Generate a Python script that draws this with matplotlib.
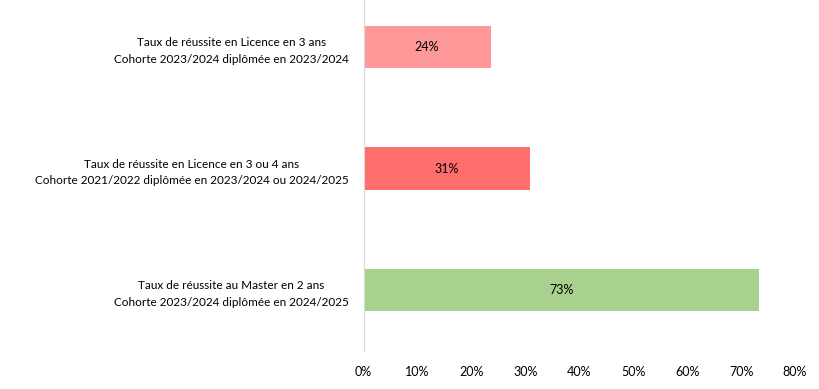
import matplotlib.pyplot as plt
from matplotlib.ticker import PercentFormatter

categories = [
    "Taux de réussite en Licence en 3 ans\nCohorte 2023/2024 diplômée en 2023/2024",
    "Taux de réussite en Licence en 3 ou 4 ans\nCohorte 2021/2022 diplômée en 2023/2024 ou 2024/2025",
    "Taux de réussite au Master en 2 ans\nCohorte 2023/2024 diplômée en 2024/2025",
]
values = [23.6, 30.9, 73.4]
labels = ["24%", "31%", "73%"]
colors = ["#FF9999", "#FF6D6D", "#A9D18E"]
xticks = [0, 10, 20, 30, 40, 50, 60, 70, 80]

plt.rcParams['font.family'] = ['Lato', 'DejaVu Sans']

fig = plt.figure(figsize=(8.19, 3.89), dpi=100)
ax = fig.add_axes([363.5 / 819, 38 / 389, (795 - 363.5) / 819, (351 + 14) / 389])

ypos = list(range(len(categories)))
bars = ax.barh(ypos, values, height=0.35, color=colors)
for b, lab in zip(bars, labels):
    ax.text(b.get_width() / 2, b.get_y() + b.get_height() / 2, lab,
            ha="center", va="center", fontsize=9, color="black")

ax.set_ylim(len(categories) - 0.5, -0.5)
ax.set_xlim(0, 80)
ax.set_xticks(xticks)
ax.xaxis.set_major_formatter(PercentFormatter(decimals=0))
ax.set_yticks(ypos)
ax.set_yticklabels(categories, fontsize=8.5, multialignment="center", linespacing=1.65)

for s in ["top", "right", "bottom"]:
    ax.spines[s].set_visible(False)
ax.spines["left"].set_color("#D9D9D9")
ax.tick_params(axis="both", length=0, colors="black")
ax.tick_params(axis="x", labelsize=9, pad=11)
ax.tick_params(axis="y", pad=10.5)

fig.savefig("out.png", dpi=100)
